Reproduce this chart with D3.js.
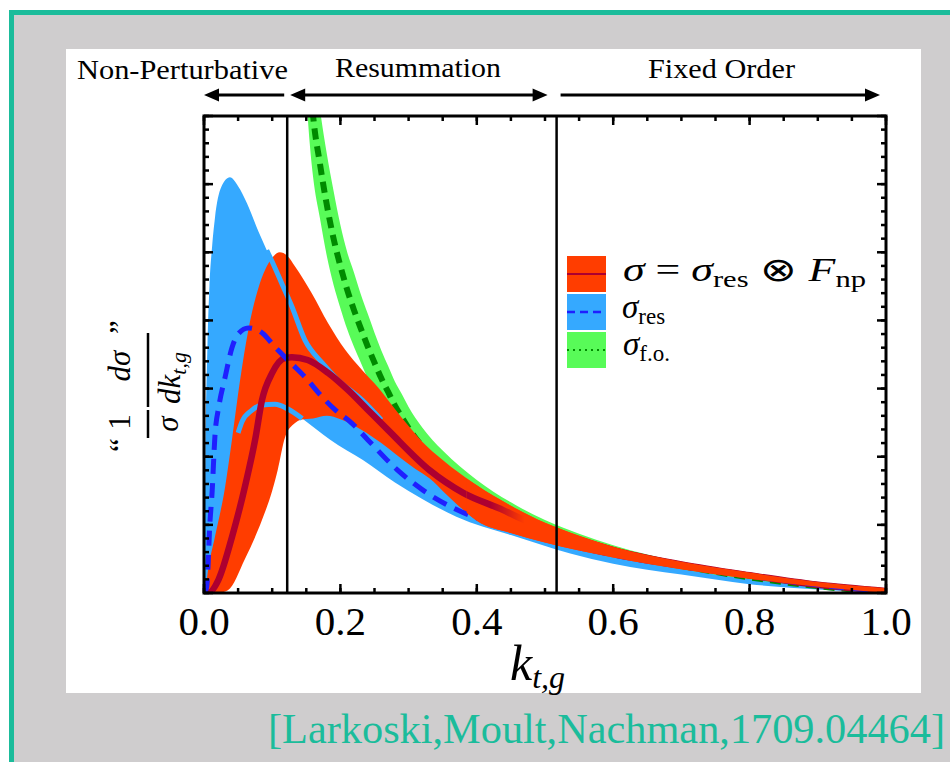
<!DOCTYPE html>
<html>
<head>
<meta charset="utf-8">
<script src="https://cdn.jsdelivr.net/npm/d3@7"></script>
<style>
  body { margin: 0; background: #ffffff; }
  svg { display: block; }
  text { font-family: "Liberation Serif", "DejaVu Serif", serif; }
</style>
</head>
<body>
<svg id="chart" width="950" height="762"></svg>
<script>
// ---- k_{t,g} distributions: [k, value] pairs (arbitrary normalisation) ----
// resummed band (sigma_res)
const resUpper = [[0,0],[0.002,2.0],[0.005,3.6],[0.008,4.5],[0.012,5.1],[0.016,5.5],[0.025,5.95],[0.038,6.1],[0.05,5.97],[0.063,5.72],[0.08,5.3],[0.092,5.03],[0.1,4.86],[0.115,4.52],[0.129,4.2],[0.148,3.71],[0.173,3.38],[0.196,3.13],[0.232,2.83],[0.26,2.54],[0.3,2.15],[0.35,1.75],[0.4,1.42],[0.45,1.15],[0.5,0.93],[0.55,0.74],[0.6,0.6],[0.7,0.42],[0.8,0.25],[0.9,0.11],[1.0,0.02]];
const resLower = [[0,0],[0.01,0.2],[0.02,0.6],[0.03,1.3],[0.04,1.9],[0.05,2.35],[0.056,2.52],[0.07,2.68],[0.085,2.76],[0.104,2.77],[0.123,2.7],[0.144,2.56],[0.165,2.4],[0.185,2.25],[0.233,1.95],[0.28,1.62],[0.32,1.38],[0.37,1.12],[0.45,0.85],[0.537,0.58],[0.6,0.43],[0.7,0.27],[0.8,0.13],[0.9,0.05],[1.0,0.0]];
const resCentral = [[0,0],[0.004,0.09],[0.006,0.4],[0.008,0.9],[0.012,1.5],[0.016,2.3],[0.022,2.75],[0.031,3.17],[0.041,3.6],[0.05,3.8],[0.065,3.89],[0.085,3.82],[0.104,3.61],[0.129,3.36],[0.148,3.17],[0.173,2.88],[0.192,2.69],[0.217,2.49],[0.24,2.25],[0.283,1.81],[0.321,1.51],[0.371,1.22],[0.45,0.95],[0.5,0.8],[0.6,0.56],[0.7,0.39],[0.8,0.25],[0.9,0.12],[1.0,0.02]];

// resummed (x) non-perturbative band (sigma)
const npUpper = [[0,0],[0.002,0.04],[0.006,0.34],[0.016,0.82],[0.031,1.56],[0.041,2.25],[0.053,3.13],[0.065,3.86],[0.079,4.45],[0.09,4.75],[0.1,4.92],[0.111,5.0],[0.122,4.95],[0.133,4.8],[0.158,4.4],[0.182,3.96],[0.207,3.57],[0.232,3.27],[0.255,3.02],[0.28,2.7],[0.3,2.45],[0.32,2.22],[0.35,1.95],[0.4,1.58],[0.45,1.28],[0.5,1.03],[0.55,0.84],[0.6,0.68],[0.7,0.46],[0.8,0.3],[0.9,0.16],[1.0,0.07]];
const npLower = [[0,0],[0.02,0.0],[0.035,0.04],[0.06,0.5],[0.085,1.07],[0.1,1.5],[0.108,1.8],[0.119,2.29],[0.133,2.49],[0.141,2.54],[0.16,2.56],[0.18,2.6],[0.2,2.55],[0.23,2.4],[0.26,2.2],[0.283,2.02],[0.31,1.82],[0.331,1.68],[0.355,1.45],[0.38,1.22],[0.4,1.06],[0.45,0.88],[0.5,0.74],[0.6,0.52],[0.7,0.35],[0.8,0.21],[0.9,0.09],[1.0,0.0]];
const npCentral = [[0,0],[0.006,0.0],[0.021,0.19],[0.041,0.82],[0.06,1.56],[0.075,2.25],[0.085,2.83],[0.1,3.23],[0.119,3.45],[0.129,3.46],[0.152,3.42],[0.182,3.23],[0.211,2.98],[0.24,2.69],[0.27,2.39],[0.331,1.8],[0.38,1.47],[0.438,1.22],[0.459,1.12],[0.5,0.95],[0.55,0.78],[0.6,0.63],[0.7,0.42],[0.8,0.26],[0.9,0.12],[1.0,0.03]];

// fixed-order band (sigma_f.o.)
const foUpper = [[0.15,9.5],[0.155,8.6],[0.16,7.9],[0.17,7.1],[0.18,6.45],[0.19,5.9],[0.2,5.4],[0.21,5.0],[0.22,4.7],[0.23,4.38],[0.24,4.1],[0.25,3.82],[0.26,3.56],[0.27,3.33],[0.28,3.1],[0.29,2.92],[0.3,2.73],[0.32,2.43],[0.35,2.09],[0.4,1.66],[0.45,1.33],[0.5,1.07],[0.55,0.87],[0.6,0.7],[0.7,0.45],[0.8,0.26],[0.9,0.11],[1.0,0.01]];
const foLower = [[0.15,7.3],[0.155,6.6],[0.16,6.1],[0.17,5.5],[0.18,4.95],[0.19,4.52],[0.2,4.18],[0.21,3.87],[0.22,3.61],[0.23,3.38],[0.24,3.15],[0.25,2.94],[0.26,2.74],[0.27,2.57],[0.28,2.39],[0.29,2.24],[0.3,2.1],[0.32,1.87],[0.35,1.61],[0.4,1.28],[0.45,1.03],[0.5,0.83],[0.55,0.67],[0.6,0.54],[0.7,0.35],[0.8,0.2],[0.9,0.09],[1.0,0.01]];
const foCentral = [[0.15,8.4],[0.155,7.6],[0.16,7.0],[0.17,6.3],[0.18,5.7],[0.19,5.2],[0.2,4.8],[0.21,4.45],[0.22,4.15],[0.23,3.88],[0.24,3.62],[0.25,3.38],[0.26,3.15],[0.27,2.95],[0.28,2.75],[0.29,2.58],[0.3,2.42],[0.32,2.15],[0.35,1.85],[0.4,1.47],[0.45,1.18],[0.5,0.95],[0.55,0.77],[0.6,0.62],[0.7,0.4],[0.8,0.23],[0.9,0.1],[1.0,0.01]];

// region boundaries in k_{t,g} and their names
const regionEdges = [0, 0.122, 0.517, 1.0];
const regionNames = ["Non-Perturbative", "Resummation", "Fixed Order"];

// axis ticks
const xTickLabels = ["0.0", "0.2", "0.4", "0.6", "0.8", "1.0"];
const xMajor = [0, 0.2, 0.4, 0.6, 0.8, 1.0];
const xMinor = d3.range(0, 1.0001, 0.05);
const yMajor = d3.range(0, 7.001, 1);
const yMinor = d3.range(0, 7.001, 0.2);

const citation = "[Larkoski,Moult,Nachman,1709.04464]";

// ---- colours ----
const C = {
  teal: "#1bbc9b", slate: "#cfcdce",
  res: "#35a9ff", resLine: "#1f1fff",
  np: "#ff3d00", npLine: "#ad0030",
  fo: "#58fb58", foLine: "#008a00"
};

const svg = d3.select("#chart");

// page frame
svg.append("rect").attr("x", 9).attr("y", 10).attr("width", 941).attr("height", 752).attr("fill", C.teal);
svg.append("rect").attr("x", 14).attr("y", 15).attr("width", 936).attr("height", 747).attr("fill", C.slate);
svg.append("rect").attr("x", 66).attr("y", 49).attr("width", 855).attr("height", 644).attr("fill", "#ffffff");

// plot geometry
const L = 204, R = 886, T = 116, B = 593;
const x = d3.scaleLinear().domain([0, 1]).range([L, R]);
const y = d3.scaleLinear().domain([0, 7]).range([B, T]);

const defs = svg.append("defs");
function clipRect(id, k0, k1) {
  defs.append("clipPath").attr("id", id)
    .append("rect").attr("x", x(k0)).attr("y", T).attr("width", x(k1) - x(k0)).attr("height", B - T);
}
clipRect("plotClip", 0, 1);
clipRect("tailClip", 0.385, 1);

// the sigma central curve sinks into its band between k = 0.42 and 0.47
const fade = defs.append("linearGradient").attr("id", "fadeOut")
  .attr("gradientUnits", "userSpaceOnUse")
  .attr("x1", x(0.42)).attr("x2", x(0.47)).attr("y1", 0).attr("y2", 0);
fade.append("stop").attr("offset", 0).attr("stop-color", "#fff");
fade.append("stop").attr("offset", 1).attr("stop-color", "#000");
defs.append("mask").attr("id", "fadeMask").attr("maskUnits", "userSpaceOnUse")
  .attr("x", 0).attr("y", 0).attr("width", 950).attr("height", 762)
  .append("rect").attr("x", x(0.385)).attr("y", T).attr("width", x(0.5) - x(0.385)).attr("height", B - T)
  .attr("fill", "url(#fadeOut)");

const line = d3.line().x(d => x(d[0])).y(d => y(d[1])).curve(d3.curveMonotoneX);
function band(upper, lower) {
  const a = line(upper);
  const b = line(lower.slice().reverse());
  return a + "L" + b.slice(1) + "Z";
}
function segment(data, k0, k1) {
  return data.filter(d => d[0] >= k0 && d[0] <= k1);
}

const plot = svg.append("g").attr("clip-path", "url(#plotClip)");

// resummed band
plot.append("path").attr("d", band(resUpper, resLower)).attr("fill", C.res);
// fixed-order band and its central curve
plot.append("path").attr("d", band(foUpper, foLower)).attr("fill", C.fo);
plot.append("path").attr("d", line(foCentral)).attr("fill", "none")
  .attr("stroke", C.foLine).attr("stroke-width", 6).attr("stroke-dasharray", "11,7");
// resummed x NP band
plot.append("path").attr("d", band(npUpper, npLower)).attr("fill", C.np);
// edges of the resummed band showing through
plot.append("path").attr("d", line(segment(resUpper, 0.09, 0.27))).attr("fill", "none")
  .attr("stroke", C.res).attr("stroke-width", 5);
plot.append("path").attr("d", line(segment(resLower, 0.05, 0.15))).attr("fill", "none")
  .attr("stroke", C.res).attr("stroke-width", 5);
// central curves
plot.append("path").attr("d", line(npCentral)).attr("fill", "none")
  .attr("stroke", C.npLine).attr("stroke-width", 6.5);
plot.append("path").attr("d", line(resCentral)).attr("fill", "none")
  .attr("stroke", C.resLine).attr("stroke-width", 5).attr("stroke-dasharray", "15,9");
// the NP band tail lies on top of everything
plot.append("g").attr("clip-path", "url(#tailClip)")
  .append("path").attr("d", band(npUpper, npLower)).attr("fill", C.np);
plot.append("g").attr("mask", "url(#fadeMask)")
  .append("path").attr("d", line(npCentral)).attr("fill", "none")
  .attr("stroke", C.npLine).attr("stroke-width", 6.5);

// region separators
svg.selectAll("line.sep").data(regionEdges.slice(1, 3)).enter().append("line")
  .attr("x1", d => x(d)).attr("x2", d => x(d)).attr("y1", T).attr("y2", B)
  .attr("stroke", "#000").attr("stroke-width", 2.5);

// frame and inward ticks on all sides
const ax = svg.append("g").attr("stroke", "#000");
ax.append("rect").attr("x", L).attr("y", T).attr("width", R - L).attr("height", B - T)
  .attr("fill", "none").attr("stroke-width", 3);
function xTicks(vals, len) {
  vals.forEach(v => {
    ax.append("line").attr("x1", x(v)).attr("x2", x(v)).attr("y1", B).attr("y2", B - len).attr("stroke-width", 2.5);
    ax.append("line").attr("x1", x(v)).attr("x2", x(v)).attr("y1", T).attr("y2", T + len).attr("stroke-width", 2.5);
  });
}
function yTicks(vals, len) {
  vals.forEach(v => {
    ax.append("line").attr("y1", y(v)).attr("y2", y(v)).attr("x1", L).attr("x2", L + len).attr("stroke-width", 2.5);
    ax.append("line").attr("y1", y(v)).attr("y2", y(v)).attr("x1", R).attr("x2", R - len).attr("stroke-width", 2.5);
  });
}
xTicks(xMinor, 5); xTicks(xMajor, 9);
yTicks(yMinor, 5); yTicks(yMajor, 9);

svg.selectAll("text.xt").data(xMajor).enter().append("text")
  .attr("x", d => x(d)).attr("y", 635).attr("text-anchor", "middle")
  .attr("font-size", 41).text((d, i) => xTickLabels[i]);

// x label
const xl = svg.append("text").attr("x", 510).attr("y", 680).attr("font-size", 50).attr("font-style", "italic");
xl.append("tspan").text("k");
xl.append("tspan").attr("font-size", 32).attr("dy", 8).text("t,g");

// region arrows
function arrowHead(px, py, dir) {
  svg.append("path")
    .attr("d", `M${px},${py} L${px - dir * 15},${py - 6.5} L${px - dir * 15},${py + 6.5} Z`)
    .attr("fill", "#000");
}
const ay = 95;
const arrows = [
  { x0: x(regionEdges[0]), x1: x(regionEdges[1]) - 3, left: true, right: false },
  { x0: x(regionEdges[1]) + 3, x1: x(regionEdges[2]) - 9, left: true, right: true },
  { x0: x(regionEdges[2]) + 4, x1: x(regionEdges[3]) - 6, left: false, right: true }
];
arrows.forEach(a => {
  svg.append("line").attr("x1", a.x0 + (a.left ? 10 : 0)).attr("x2", a.x1 - (a.right ? 10 : 0))
    .attr("y1", ay).attr("y2", ay).attr("stroke", "#000").attr("stroke-width", 3);
  if (a.left) arrowHead(a.x0, ay, -1);
  if (a.right) arrowHead(a.x1, ay, 1);
});
svg.append("text").attr("x", 77).attr("y", 79).attr("font-size", 27.5)
  .attr("textLength", 211).attr("lengthAdjust", "spacingAndGlyphs").text(regionNames[0]);
svg.append("text").attr("x", 335).attr("y", 77).attr("font-size", 27.5)
  .attr("textLength", 166).attr("lengthAdjust", "spacingAndGlyphs").text(regionNames[1]);
svg.append("text").attr("x", 648).attr("y", 78).attr("font-size", 27.5)
  .attr("textLength", 147).attr("lengthAdjust", "spacingAndGlyphs").text(regionNames[2]);

// legend
const legend = [
  { fill: C.np, stroke: C.npLine, dash: null, w: 2 },
  { fill: C.res, stroke: C.resLine, dash: "8,5", w: 2.5 },
  { fill: C.fo, stroke: C.foLine, dash: "2,4", w: 2 }
];
const swY = [256, 294, 332];
legend.forEach((d, i) => {
  svg.append("rect").attr("x", 567).attr("y", swY[i]).attr("width", 39).attr("height", 36).attr("fill", d.fill);
  svg.append("line").attr("x1", 567).attr("x2", 606).attr("y1", swY[i] + 18).attr("y2", swY[i] + 18)
    .attr("stroke", d.stroke).attr("stroke-width", d.w).attr("stroke-dasharray", d.dash);
});
const t1 = svg.append("text").attr("x", 623).attr("y", 281).attr("font-size", 33)
  .attr("textLength", 243).attr("lengthAdjust", "spacingAndGlyphs");
t1.append("tspan").attr("font-style", "italic").text("σ");
t1.append("tspan").text(" = ");
t1.append("tspan").attr("font-style", "italic").text("σ");
t1.append("tspan").attr("font-size", 23).attr("dy", 6).text("res");
t1.append("tspan").attr("dy", -6).attr("font-family", "Noto Sans, DejaVu Sans").attr("font-weight", 300).text(" ⊗ ");
t1.append("tspan").attr("font-style", "italic").text("F");
t1.append("tspan").attr("font-size", 23).attr("dy", 6).text("np");
const t2 = svg.append("text").attr("x", 622).attr("y", 318).attr("font-size", 33);
t2.append("tspan").attr("font-style", "italic").text("σ");
t2.append("tspan").attr("font-size", 23).attr("dy", 6).text("res");
const t3 = svg.append("text").attr("x", 623).attr("y", 355).attr("font-size", 33);
t3.append("tspan").attr("font-style", "italic").text("σ");
t3.append("tspan").attr("font-size", 23).attr("dy", 6).text("f.o.");

// y label: “ (1/σ) (dσ / dk_{t,g}) ”, rotated
const yl = svg.append("g").attr("transform", "rotate(-90)").attr("font-size", 31);
yl.append("text").attr("x", -452).attr("y", 131).text("“");
yl.append("text").attr("x", -422).attr("y", 130).attr("text-anchor", "middle").text("1");
yl.append("line").attr("x1", -438).attr("x2", -410).attr("y1", 148).attr("y2", 148).attr("stroke", "#000").attr("stroke-width", 2.5);
yl.append("text").attr("x", -424).attr("y", 178).attr("text-anchor", "middle").attr("font-style", "italic").text("σ");
yl.append("text").attr("x", -366).attr("y", 130).attr("text-anchor", "middle").attr("font-style", "italic").text("dσ");
yl.append("line").attr("x1", -407).attr("x2", -333).attr("y1", 148).attr("y2", 148).attr("stroke", "#000").attr("stroke-width", 2.5);
const den = yl.append("text").attr("x", -404).attr("y", 180).attr("font-style", "italic");
den.append("tspan").text("dk");
den.append("tspan").attr("font-size", 22).attr("dy", 6).text("t,g");
yl.append("text").attr("x", -334).attr("y", 131).text("”");

// reference
svg.append("text").attr("x", 268).attr("y", 743).attr("font-size", 42).attr("fill", C.teal)
  .attr("textLength", 677).attr("lengthAdjust", "spacingAndGlyphs").text(citation);
</script>
</body>
</html>
